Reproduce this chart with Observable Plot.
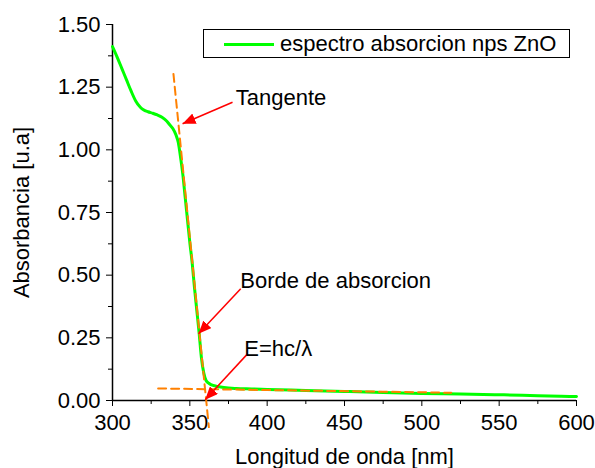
<!DOCTYPE html>
<html>
<head>
<meta charset="utf-8">
<script src="https://cdn.jsdelivr.net/npm/d3@7"></script>
<script src="https://cdn.jsdelivr.net/npm/@observablehq/plot@0.6"></script>
<style>
  html, body { margin: 0; padding: 0; background: #fff; }
  #wrap { position: relative; width: 595px; height: 468px; font-family: "Liberation Sans", Arial, sans-serif; }
  #legend { position: absolute; left: 203px; top: 29px; width: 367px; height: 29px; box-sizing: border-box;
            border: 1px solid #000; background: #fff; }
  #legend .sw { position: absolute; left: 20px; top: 13px; width: 50px; height: 3px; background: #00ff00; }
  #legend .lb { position: absolute; left: 76px; top: 0px; line-height: 27px; font-size: 22px; color: #000; white-space: nowrap; }
</style>
</head>
<body>
<div id="wrap"></div>
<script>
// Spectrum
const wavelength = [300, 303, 306, 309, 312, 315, 318, 320, 323, 326, 329, 332, 335, 337, 339, 341, 342.5, 344, 345.5, 347, 348.5, 350, 351.5, 353, 354.5, 356, 357.5, 359, 360.5, 362.5, 365, 368, 372, 380, 390, 400, 425, 450, 475, 500, 525, 550, 565, 575, 590, 600];
const absorbance = [1.412, 1.37, 1.325, 1.28, 1.235, 1.195, 1.17, 1.16, 1.152, 1.146, 1.139, 1.13, 1.115, 1.10, 1.085, 1.06, 1.03, 0.97, 0.90, 0.81, 0.72, 0.63, 0.55, 0.45, 0.36, 0.27, 0.17, 0.11, 0.08, 0.068, 0.06, 0.056, 0.052, 0.048, 0.046, 0.044, 0.040, 0.036, 0.032, 0.028, 0.026, 0.023, 0.021, 0.019, 0.017, 0.016];

// Tangent lines (dashed)
const tangentX = [339.4, 362.3];
const tangentY = [1.303, -0.106];
const baselineX = [329.5, 519];
const baselineY = [0.048, 0.031];

// Ticks
const xTicks = [300, 350, 400, 450, 500, 550, 600];
const xMinor = [325, 375, 425, 475, 525, 575];
const yTicks = [0, 0.25, 0.5, 0.75, 1.0, 1.25, 1.5];
const yMinor = [0.125, 0.375, 0.625, 0.875, 1.125, 1.375];

// Annotations
const noteText = ["Tangente", "Borde de absorcion", "E=hc/λ"];
const noteX = [379.7, 382.6, 385.2];
const noteY = [1.205, 0.476, 0.207];
const arrowX1 = [377.6, 382.9, 387.3];
const arrowY1 = [1.190, 0.446, 0.186];
const arrowX2 = [345.3, 355.6, 359.9];
const arrowY2 = [1.104, 0.266, 0.003];

const legendLabel = "espectro absorcion nps ZnO";

const spectrum = wavelength.map((w, i) => ({x: w, y: absorbance[i]}));
const tangent = tangentX.map((w, i) => ({x: w, y: tangentY[i]}));
const baseline = baselineX.map((w, i) => ({x: w, y: baselineY[i]}));
const notes = noteText.map((t, i) => ({t, x: noteX[i], y: noteY[i]}));
const arrows = arrowX1.map((v, i) => ({x1: v, y1: arrowY1[i], x2: arrowX2[i], y2: arrowY2[i]}));

function filledArrow(color, context) {
  const doc = (context && context.document) || document;
  const ns = "http://www.w3.org/2000/svg";
  const m = doc.createElementNS(ns, "marker");
  m.setAttribute("viewBox", "-13 -5.5 13 11");
  m.setAttribute("markerWidth", 13);
  m.setAttribute("markerHeight", 11);
  m.setAttribute("markerUnits", "userSpaceOnUse");
  m.setAttribute("refX", 0);
  m.setAttribute("refY", 0);
  m.setAttribute("orient", "auto");
  const p = doc.createElementNS(ns, "path");
  p.setAttribute("d", "M-13,-5.5L0,0L-13,5.5Z");
  p.setAttribute("fill", color);
  p.setAttribute("stroke", "none");
  m.appendChild(p);
  return m;
}

function build(marker) {
  return Plot.plot({
    width: 595,
    height: 468,
    marginLeft: 112,
    marginRight: 19,
    marginTop: 24,
    marginBottom: 68,
    style: {fontFamily: "Liberation Sans, Arial, sans-serif", fontSize: "22px", color: "#000", background: "#fff"},
    x: {domain: [300, 600]},
    y: {domain: [0, 1.5]},
    marks: [
      Plot.axisX({ticks: xTicks, tickSize: 6, tickPadding: 8, tickFormat: "d", fontSize: 22,
                  label: "Longitud de onda [nm]", labelAnchor: "center", labelArrow: "none", labelOffset: 63}),
      Plot.axisX({ticks: xMinor, tickSize: 4, tickFormat: () => "", label: null}),
      Plot.axisY({ticks: yTicks, tickSize: 6, tickPadding: 6, tickFormat: d3.format(".2f"), fontSize: 22,
                  label: "Absorbancia [u.a]", labelAnchor: "center", labelArrow: "none", labelOffset: 99}),
      Plot.axisY({ticks: yMinor, tickSize: 4, tickFormat: () => "", label: null}),
      Plot.ruleY([0], {stroke: "#000", strokeWidth: 1.5}),
      Plot.ruleX([300], {stroke: "#000", strokeWidth: 1.5}),
      Plot.line(spectrum, {x: "x", y: "y", stroke: "#00ff00", strokeWidth: 3, curve: "monotone-x"}),
      Plot.line(tangent, {x: "x", y: "y", stroke: "#ff8000", strokeWidth: 2, strokeDasharray: "8,5"}),
      Plot.line(baseline, {x: "x", y: "y", stroke: "#ff8000", strokeWidth: 2, strokeDasharray: "8,5"}),
      Plot.link(arrows, {x1: "x1", y1: "y1", x2: "x2", y2: "y2", stroke: "#ff0000", strokeWidth: 1.5, markerEnd: marker}),
      Plot.text(notes, {x: "x", y: "y", text: "t", textAnchor: "start", fontSize: 22, fill: "#000"})
    ]
  });
}

let chart;
try { chart = build(filledArrow); } catch (e) { chart = build("arrow"); }
const wrap = document.getElementById("wrap");
wrap.appendChild(chart);
const leg = document.createElement("div");
leg.id = "legend";
leg.innerHTML = '<div class="sw"></div><div class="lb"></div>';
leg.querySelector(".lb").textContent = legendLabel;
wrap.appendChild(leg);
</script>
</body>
</html>
